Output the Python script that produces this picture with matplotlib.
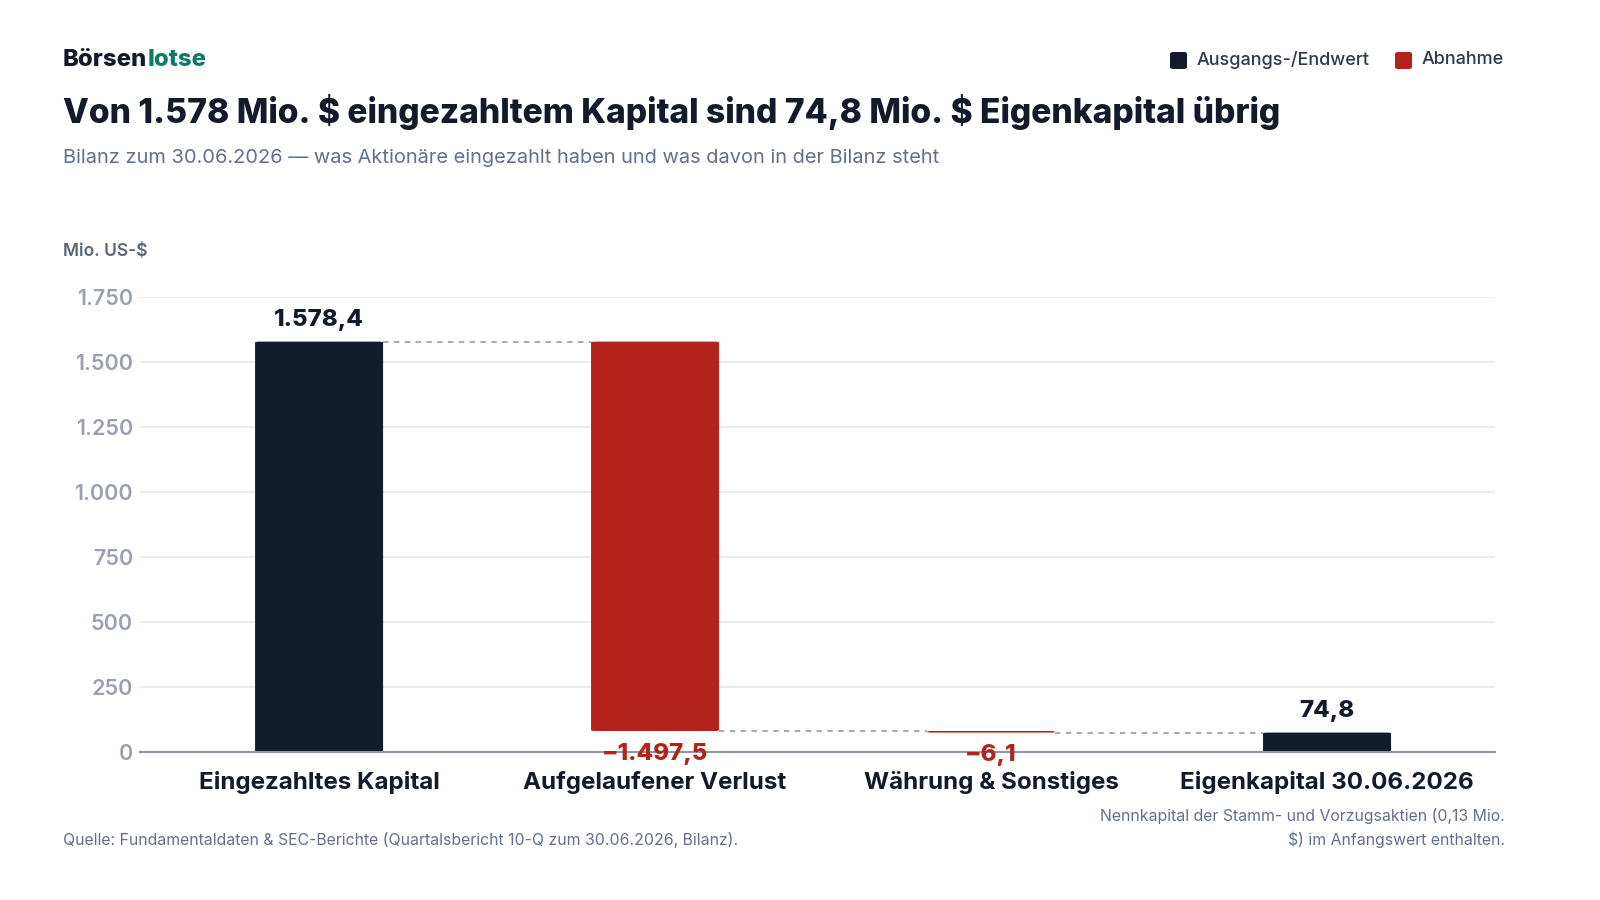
import matplotlib
matplotlib.use("Agg")
import matplotlib.pyplot as plt
from matplotlib.patches import FancyBboxPatch
from matplotlib.ticker import FuncFormatter, MultipleLocator

plt.rcParams['font.family'] = ['Inter', 'DejaVu Sans']

categories = ["Eingezahltes Kapital", "Aufgelaufener Verlust", "Währung & Sonstiges", "Eigenkapital 30.06.2026"]
changes = [1578.4, -1497.5, -6.1, 74.8]
kinds = ["total", "delta", "delta", "total"]
value_labels = ["1.578,4", "−1.497,5", "−6,1", "74,8"]
legend_labels = ["Ausgangs-/Endwert", "Abnahme"]

DARK = "#131a29"
RED = "#b3231a"
GRID = "#e6e8ec"
AXIS = "#8f98aa"
TICK = "#9aa1ae"
SUB = "#64708a"

fig = plt.figure(figsize=(16, 9), dpi=100)
ax = fig.add_axes([0.0875, 0.1644, 0.8469, 0.5056])

bw = 0.381
running = 0.0
for i, (c, k) in enumerate(zip(changes, kinds)):
    if k == "total":
        lo, hi = 0.0, c
        running = c
        color = DARK
    else:
        start = running
        running = running + c
        lo, hi = min(start, running), max(start, running)
        color = RED
    h = max(hi - lo, 4)
    if k == "delta" and hi - lo < 4:
        lo = hi - 4
    p = FancyBboxPatch((i - bw / 2, lo), bw, h,
                       boxstyle="round,pad=0,rounding_size=0.012",
                       mutation_aspect=1750 / 3.9 * 0.6,
                       facecolor=color, edgecolor="none", zorder=3)
    ax.add_patch(p)
    if k == "total":
        ax.text(i, hi + 82, value_labels[i], ha="center", va="center",
                fontsize=17.3, fontweight="heavy", color=DARK, zorder=4)
    else:
        ax.text(i, lo - 88, value_labels[i], ha="center", va="center",
                fontsize=17.3, fontweight="heavy", color=RED, zorder=6)

# connectors
levels = []
running = 0.0
for c, k in zip(changes, kinds):
    running = c if k == "total" else running + c
    levels.append(running)
for i in range(len(changes) - 1):
    ax.plot([i + bw / 2, i + 1 - bw / 2], [levels[i], levels[i]],
            linestyle=(0, (3, 3)), color="#9aa3b5", lw=1.3, zorder=2)

ax.set_xlim(-0.533, 3.5)
ax.set_ylim(0, 1750)
ax.yaxis.set_major_locator(MultipleLocator(250))
ax.yaxis.set_major_formatter(FuncFormatter(lambda v, p: f"{int(v):,}".replace(",", ".")))
ax.grid(axis="y", color=GRID, lw=1.2, zorder=0)
ax.set_axisbelow(True)
for s in ["top", "right", "left"]:
    ax.spines[s].set_visible(False)
ax.spines["bottom"].set_color(AXIS)
ax.spines["bottom"].set_linewidth(1.5)
ax.spines["bottom"].set_zorder(5)
ax.tick_params(axis="y", length=0, pad=5, labelsize=15.5, labelcolor=TICK)
for t in ax.get_yticklabels():
    t.set_fontweight("semibold")
ax.set_xticks(range(len(categories)))
ax.set_xticklabels(categories, fontsize=17.4, fontweight="bold", color=DARK)
ax.tick_params(axis="x", length=0, pad=14)

# header
fig.text(63 / 1600, 1 - 60 / 900, "Börsen", fontsize=17.2, fontweight="heavy", color=DARK, va="center", ha="left")
fig.canvas.draw()
r = fig.texts[-1].get_window_extent()
fig.text(r.x1 / 1600, 1 - 60 / 900, "lotse", fontsize=17.2, fontweight="heavy", color="#107a68", va="center", ha="left")
fig.text(63 / 1600, 1 - 112 / 900, "Von 1.578 Mio. \\$ eingezahltem Kapital sind 74,8 Mio. \\$ Eigenkapital übrig",
         fontsize=24.2, fontweight="heavy", color=DARK, va="center", ha="left")
fig.text(63 / 1600, 1 - 158 / 900, "Bilanz zum 30.06.2026 — was Aktionäre eingezahlt haben und was davon in der Bilanz steht",
         fontsize=14.4, color=SUB, va="center", ha="left")
fig.text(63 / 1600, 1 - 252 / 900, "Mio. US-\\$", fontsize=12.5, fontweight="semibold", color="#5b6579", va="center", ha="left")

# legend
for x0, lab, col in [(1170, legend_labels[0], DARK), (1395, legend_labels[1], RED)]:
    sq = FancyBboxPatch((x0 / 1600, 1 - 69 / 900), 17 / 1600, 17 / 900,
                        boxstyle="round,pad=0,rounding_size=0.002",
                        transform=fig.transFigure, facecolor=col, edgecolor="none")
    fig.patches.append(sq)
    fig.text((x0 + 27) / 1600, 1 - 60 / 900, lab, fontsize=13, fontweight="medium",
             color="#2f3a4e", va="center", ha="left")

# footer
fig.text(63 / 1600, 1 - 840 / 900, "Quelle: Fundamentaldaten & SEC-Berichte (Quartalsbericht 10-Q zum 30.06.2026, Bilanz).",
         fontsize=11.4, color=SUB, va="center", ha="left")
fig.text(1505 / 1600, 1 - 828 / 900, "Nennkapital der Stamm- und Vorzugsaktien (0,13 Mio.\n\\$) im Anfangswert enthalten.",
         fontsize=11.4, color=SUB, va="center", ha="right", multialignment="right", linespacing=1.55)

fig.savefig("out.png", dpi=100, facecolor="white")
